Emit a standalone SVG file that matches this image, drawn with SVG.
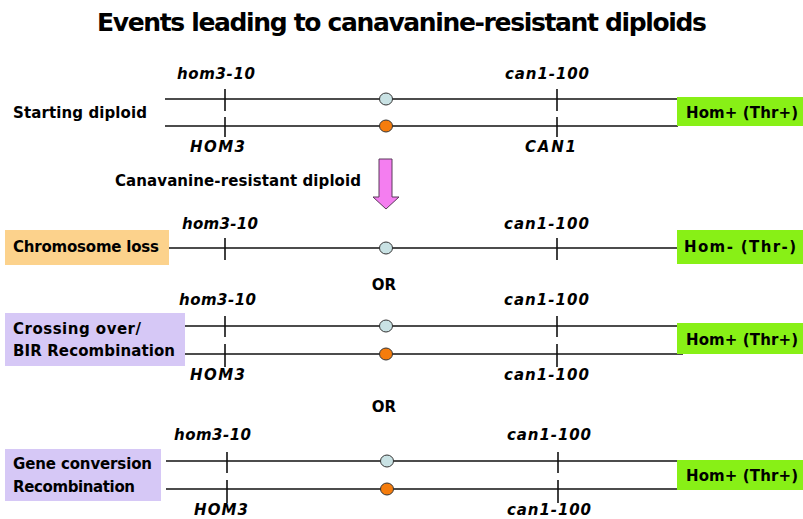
<svg xmlns="http://www.w3.org/2000/svg" width="803" height="519" viewBox="0 0 803 519">
  <defs>
    <style>
      .t { font-family: "DejaVu Sans", "Liberation Sans", sans-serif; font-weight: bold; fill: #000; }
      .title { font-size: 25px; }
      .lab { font-size: 15px; }
      .gene { font-size: 15px; font-style: italic; }
      .chr { stroke: #111; stroke-width: 1.6; fill: none; }
      .tick { stroke: #111; stroke-width: 1.6; }
      .cb { fill: #c9e2e4; stroke: #333; stroke-width: 1; }
      .co { fill: #f57c0c; stroke: #333; stroke-width: 1; }
      .green { fill: #88f016; }
      .purple { fill: #d6c8f6; }
      .orange { fill: #fcd28c; }
    </style>
  </defs>
  <rect width="803" height="519" fill="#fff"/>

  <text id="title" class="t title" x="402" y="31" text-anchor="middle" textLength="610">Events leading to canavanine-resistant diploids</text>

  <g id="connectors">
    <!-- section 1 -->
    <line class="chr" x1="165" y1="99" x2="678" y2="99"/>
    <line class="chr" x1="165" y1="126" x2="678" y2="126"/>
    <line class="tick" x1="225" y1="89" x2="225" y2="111"/>
    <line class="tick" x1="225" y1="117" x2="225" y2="137"/>
    <line class="tick" x1="557" y1="89" x2="557" y2="111"/>
    <line class="tick" x1="557" y1="117" x2="557" y2="137"/>
    <!-- section 2 -->
    <line class="chr" x1="169" y1="248" x2="678" y2="248"/>
    <line class="tick" x1="225" y1="238" x2="225" y2="260"/>
    <line class="tick" x1="557" y1="238" x2="557" y2="260"/>
    <!-- section 3 -->
    <line class="chr" x1="185" y1="326" x2="683" y2="326"/>
    <line class="chr" x1="185" y1="354" x2="683" y2="354"/>
    <line class="tick" x1="225" y1="316" x2="225" y2="337"/>
    <line class="tick" x1="225" y1="344" x2="225" y2="367"/>
    <line class="tick" x1="557" y1="316" x2="557" y2="337"/>
    <line class="tick" x1="557" y1="344" x2="557" y2="367"/>
    <!-- section 4 -->
    <line class="chr" x1="166" y1="461" x2="678" y2="461"/>
    <line class="chr" x1="166" y1="489" x2="678" y2="489"/>
    <line class="tick" x1="227" y1="452" x2="227" y2="473"/>
    <line class="tick" x1="227" y1="480" x2="227" y2="503"/>
    <line class="tick" x1="558" y1="452" x2="558" y2="473"/>
    <line class="tick" x1="558" y1="480" x2="558" y2="503"/>
  </g>

  <g id="centromeres">
    <ellipse class="cb" cx="386" cy="99" rx="6.5" ry="6"/>
    <ellipse class="co" cx="386" cy="126" rx="6.5" ry="6"/>
    <ellipse class="cb" cx="386" cy="248" rx="6.5" ry="6"/>
    <ellipse class="cb" cx="386" cy="326" rx="6.5" ry="6"/>
    <ellipse class="co" cx="386" cy="354" rx="6.5" ry="6"/>
    <ellipse class="cb" cx="387" cy="461" rx="6.5" ry="6"/>
    <ellipse class="co" cx="387" cy="489" rx="6.5" ry="6"/>
  </g>

  <g id="starting">
    <text class="t lab" x="13" y="118" textLength="134">Starting diploid</text>
    <text class="t gene" x="177" y="79" textLength="78">hom3-10</text>
    <text class="t gene" x="505" y="79" textLength="84">can1-100</text>
    <text class="t gene" x="190" y="152" textLength="55">HOM3</text>
    <text class="t gene" x="525" y="152" textLength="51">CAN1</text>
  </g>
  <g id="starting-pheno">
    <rect class="green" x="677" y="97" width="126" height="29"/>
    <text class="t lab" x="686" y="118" textLength="112">Hom+ (Thr+)</text>
  </g>

  <g id="arrow">
    <path d="M379,159 L392,159 L392,197 L399,197 L386,209 L373,197 L379,197 Z" fill="#f47ef0" stroke="#5a3a5a" stroke-width="1"/>
    <text class="t lab" x="115" y="186" textLength="246">Canavanine-resistant diploid</text>
  </g>

  <g id="chromosome-loss">
    <rect class="orange" x="5" y="230" width="164" height="35"/>
    <text class="t lab" x="13" y="252" textLength="146">Chromosome loss</text>
    <text class="t gene" x="182" y="229" textLength="76">hom3-10</text>
    <text class="t gene" x="504" y="229" textLength="85">can1-100</text>
  </g>
  <g id="loss-pheno">
    <rect class="green" x="677" y="230" width="126" height="34"/>
    <text class="t lab" x="684" y="252" textLength="112">Hom- (Thr-)</text>
  </g>

  <text id="or1" class="t lab" x="384" y="290" text-anchor="middle">OR</text>

  <g id="crossing-over">
    <rect class="purple" x="5" y="313" width="180" height="53"/>
    <text class="t lab" x="13" y="334" textLength="128">Crossing over/</text>
    <text class="t lab" x="13" y="356" textLength="162">BIR Recombination</text>
    <text class="t gene" x="179" y="305" textLength="77">hom3-10</text>
    <text class="t gene" x="504" y="305" textLength="85">can1-100</text>
    <text class="t gene" x="190" y="380" textLength="55">HOM3</text>
    <text class="t gene" x="504" y="380" textLength="85">can1-100</text>
  </g>
  <g id="crossing-pheno">
    <rect class="green" x="677" y="323" width="126" height="31"/>
    <text class="t lab" x="686" y="345" textLength="112">Hom+ (Thr+)</text>
  </g>

  <text id="or2" class="t lab" x="384" y="412" text-anchor="middle">OR</text>

  <g id="gene-conversion">
    <rect class="purple" x="5" y="449" width="156" height="52"/>
    <text class="t lab" x="13" y="469" textLength="139">Gene conversion</text>
    <text class="t lab" x="13" y="492" textLength="122">Recombination</text>
    <text class="t gene" x="174" y="440" textLength="77">hom3-10</text>
    <text class="t gene" x="507" y="440" textLength="84">can1-100</text>
    <text class="t gene" x="194" y="515" textLength="54">HOM3</text>
    <text class="t gene" x="507" y="515" textLength="84">can1-100</text>
  </g>
  <g id="conversion-pheno">
    <rect class="green" x="677" y="460" width="126" height="30"/>
    <text class="t lab" x="686" y="481" textLength="112">Hom+ (Thr+)</text>
  </g>
</svg>
